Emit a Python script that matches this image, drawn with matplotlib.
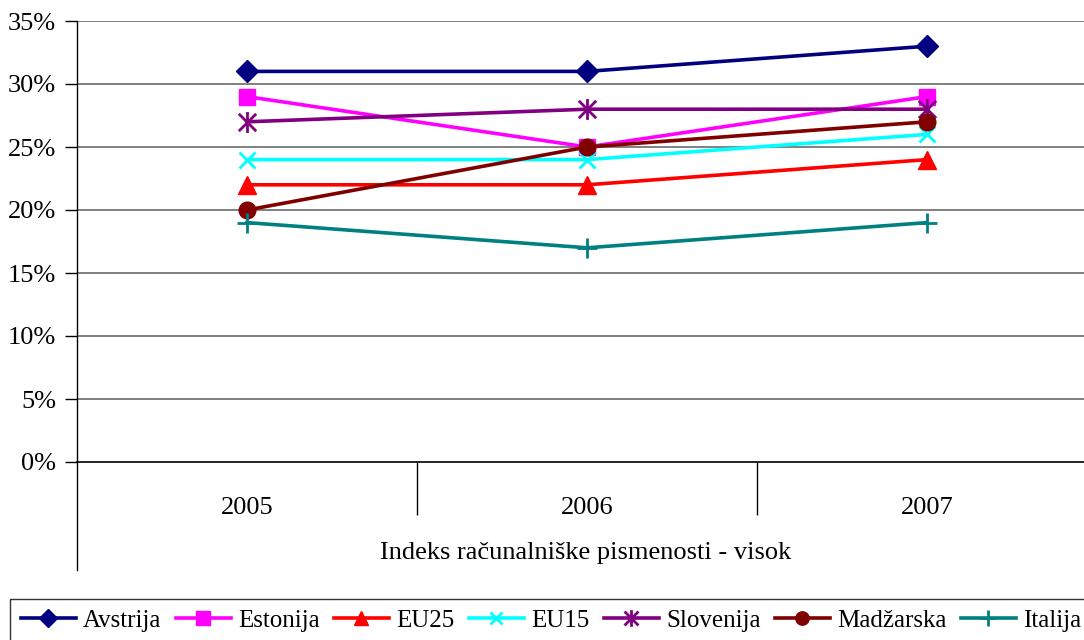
import matplotlib.pyplot as plt
from matplotlib.path import Path
from matplotlib.ticker import FixedLocator, FuncFormatter

plt.rcParams['font.family'] = ['Liberation Serif', 'DejaVu Serif']

years = ["2005", "2006", "2007"]
avstrija = [31, 31, 33]
estonija = [29, 25, 29]
eu25 = [22, 22, 24]
eu15 = [24, 24, 26]
slovenija = [27, 28, 28]
madzarska = [20, 25, 27]
italija = [19, 17, 19]

# Excel-style asterisk marker: x with a vertical stroke
star = Path([(-0.5, -0.5), (0.5, 0.5), (-0.5, 0.5), (0.5, -0.5), (0, -0.6), (0, 0.6)],
            [Path.MOVETO, Path.LINETO, Path.MOVETO, Path.LINETO, Path.MOVETO, Path.LINETO])

series = [
    ("Avstrija", avstrija, "#000080", "D", 11),
    ("Estonija", estonija, "#ff00ff", "s", 12),
    ("EU25", eu25, "#ff0000", "^", 13),
    ("EU15", eu15, "#00ffff", "x", 11),
    ("Slovenija", slovenija, "#800080", star, 15),
    ("Madžarska", madzarska, "#800000", "o", 12),
    ("Italija", italija, "#008080", "+", 14),
]

W, H = 1084, 640
fig = plt.figure(figsize=(W / 100, H / 100), dpi=100)
ax_l, ax_r, ax_t, ax_b = 77, 1097, 21, 462
ax = fig.add_axes([ax_l / W, 1 - ax_b / H, (ax_r - ax_l) / W, (ax_b - ax_t) / H])

xs = [0.5, 1.5, 2.5]
for name, vals, col, mk, ms in series:
    ax.plot(xs, vals, color=col, lw=2.6, marker=mk, ms=ms, mfc=col, mec=col,
            mew=2.0 if mk in ("x", "+") or mk is star else 1, label=name, zorder=3)

ax.set_xlim(0, 3)
ax.set_ylim(0, 35)
ax.yaxis.set_major_locator(FixedLocator(range(0, 36, 5)))
ax.yaxis.set_major_formatter(FuncFormatter(lambda v, p: f"{v:.0f}%"))
ax.tick_params(axis="y", length=9, width=1, labelsize=19, pad=6, color="black")
for v in range(5, 36, 5):
    ax.axhline(v, color="#808080", lw=1.4, zorder=1)

# category separators as long ticks, labels centred between them
ax.xaxis.set_major_locator(FixedLocator([1, 2]))
ax.xaxis.set_major_formatter(FuncFormatter(lambda v, p: ""))
ax.set_xticks(xs, years, minor=True)
ax.tick_params(axis="x", which="major", length=38, width=1, color="black")
ax.tick_params(axis="x", which="minor", length=0, labelsize=19, pad=25)

for s in ("top", "right"):
    ax.spines[s].set_visible(False)
ax.spines["left"].set_linewidth(1)
ax.spines["bottom"].set_linewidth(1.2)
ax.plot([0, 0], [0, -108 / (ax_b - ax_t)], transform=ax.get_xaxis_transform(),
        color="black", lw=1, clip_on=False)

fig.text(586 / W, 1 - 553 / H, "Indeks računalniške pismenosti - visok",
         ha="center", va="center", fontsize=19)

# legend frame runs off the bottom and right edges, as in the original
leg = fig.legend(loc="upper left", bbox_to_anchor=(10 / W, 1 - 599 / H, 1082 / W, 0),
                 mode="expand", ncol=7, fontsize=18, frameon=True, fancybox=False,
                 edgecolor="black", handlelength=2.2, handletextpad=0.3,
                 columnspacing=0.3, borderaxespad=0, borderpad=0.42, markerscale=0.8)
leg.get_frame().set_linewidth(1)

fig.savefig("out.png", dpi=100, facecolor="white")
